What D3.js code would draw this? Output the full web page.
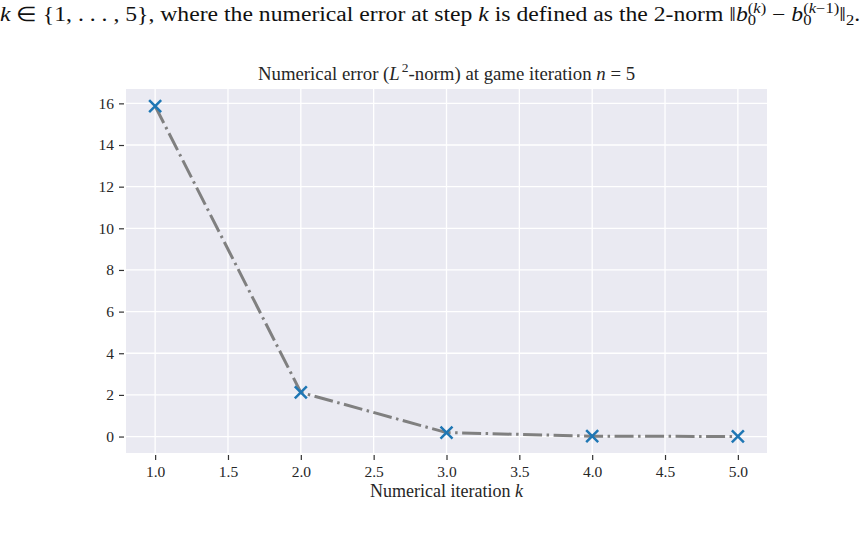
<!DOCTYPE html>
<html><head><meta charset="utf-8">
<script src="https://cdn.jsdelivr.net/npm/d3@7/dist/d3.min.js"></script>
<style>body{margin:0;background:#fff;} svg{display:block;}</style>
</head><body>
<svg id="c" width="864" height="544"></svg>
<script>
const iterations = [1, 2, 3, 4, 5];
const errors = [15.87, 2.12, 0.19, 0.02, 0.003];
const xTicks = [1.0, 1.5, 2.0, 2.5, 3.0, 3.5, 4.0, 4.5, 5.0];
const yTicks = [0, 2, 4, 6, 8, 10, 12, 14, 16];

const svg = d3.select("#c");
const font = "'Liberation Serif','Times New Roman',serif";
const L = 126, R = 767, T = 89, B = 453;

const x = d3.scaleLinear().domain([0.8, 5.2]).range([L, R]);
const y = d3.scaleLinear().domain([-0.79, 16.69]).range([B, T]);

// top paragraph text
const paraG = svg.append("g");
const para = paraG.append("text").attr("x", 0).attr("y", 21)
  .style("font-family", font).style("font-size", "20px").attr("fill", "#111");
para.append("tspan").attr("font-style", "italic").text("k");
para.append("tspan").text(" ∈ {1, . . . , 5}, where the numerical error at step ");
para.append("tspan").attr("font-style", "italic").text("k");
para.append("tspan").text(" is defined as the 2-norm ‖");
para.append("tspan").attr("font-style", "italic").text("b");
para.append("tspan").style("font-size", "14px").attr("dy", 4).text("0");
para.append("tspan").style("font-size", "14px").attr("dy", -12).attr("dx", -7).text("(");
para.append("tspan").style("font-size", "14px").attr("font-style", "italic").text("k");
para.append("tspan").style("font-size", "14px").text(")");
para.append("tspan").attr("dy", 8).text(" − ");
para.append("tspan").attr("font-style", "italic").text("b");
para.append("tspan").style("font-size", "14px").attr("dy", 4).text("0");
para.append("tspan").style("font-size", "14px").attr("dy", -12).attr("dx", -7).text("(");
para.append("tspan").style("font-size", "14px").attr("font-style", "italic").text("k");
para.append("tspan").style("font-size", "14px").text("−1)");
para.append("tspan").attr("dy", 8).text("‖");
para.append("tspan").style("font-size", "14px").attr("dy", 4).text("2");
para.append("tspan").attr("dy", -4).text(".");
const pw = para.node().getBBox().width;
paraG.attr("transform", `scale(${860 / pw},1)`);

// plot background
svg.append("rect").attr("x", L).attr("y", T).attr("width", R - L).attr("height", B - T).attr("fill", "#EAEAF2");

// grid
svg.append("g").selectAll("line").data(xTicks).join("line")
  .attr("x1", d => x(d)).attr("x2", d => x(d)).attr("y1", T).attr("y2", B)
  .attr("stroke", "#fff").attr("stroke-width", 1.3);
svg.append("g").selectAll("line").data(yTicks).join("line")
  .attr("y1", d => y(d)).attr("y2", d => y(d)).attr("x1", L).attr("x2", R)
  .attr("stroke", "#fff").attr("stroke-width", 1.3);

// axes
const xAxis = svg.append("g").attr("transform", `translate(0,${B + 2})`)
  .call(d3.axisBottom(x).tickValues(xTicks).tickFormat(d3.format(".1f")).tickSize(5).tickPadding(6));
const yAxis = svg.append("g").attr("transform", `translate(${L - 2},0)`)
  .call(d3.axisLeft(y).tickValues(yTicks).tickFormat(d3.format("d")).tickSize(5).tickPadding(5));
[xAxis, yAxis].forEach(a => {
  a.attr("font-size", null).attr("font-family", null);
  a.select(".domain").remove();
  a.selectAll(".tick line").attr("stroke", "#333").attr("stroke-width", 1.2);
  a.selectAll(".tick text").style("font-family", font).style("font-size", "15.5px").attr("fill", "#262626");
});

// line
const line = d3.line().x((d, i) => x(iterations[i])).y(d => y(d));
svg.append("path").datum(errors).attr("d", line)
  .attr("fill", "none").attr("stroke", "#808080").attr("stroke-width", 3)
  .attr("stroke-dasharray", "19,4.5,2.5,4.5");

// markers
const s = 6;
svg.append("g").selectAll("path").data(errors).join("path")
  .attr("transform", (d, i) => `translate(${x(iterations[i])},${y(d)})`)
  .attr("d", `M${-s},${-s}L${s},${s}M${-s},${s}L${s},${-s}`)
  .attr("stroke", "#1f77b4").attr("stroke-width", 2.5).attr("fill", "none");

// title
const title = svg.append("text").attr("x", (L + R) / 2).attr("y", 80)
  .attr("text-anchor", "middle").style("font-family", font).style("font-size", "18.8px").attr("fill", "#262626");
title.append("tspan").text("Numerical error (");
title.append("tspan").attr("font-style", "italic").text("L");
title.append("tspan").attr("dx", 2).style("font-size", "13.5px").attr("dy", -8).text("2");
title.append("tspan").attr("dy", 8).text("-norm) at game iteration ");
title.append("tspan").attr("font-style", "italic").text("n");
title.append("tspan").text(" = 5");

// x label
const xl = svg.append("text").attr("x", (L + R) / 2).attr("y", 497)
  .attr("text-anchor", "middle").style("font-family", font).style("font-size", "18px").attr("fill", "#262626");
xl.append("tspan").text("Numerical iteration ");
xl.append("tspan").attr("font-style", "italic").text("k");
</script>
</body></html>
